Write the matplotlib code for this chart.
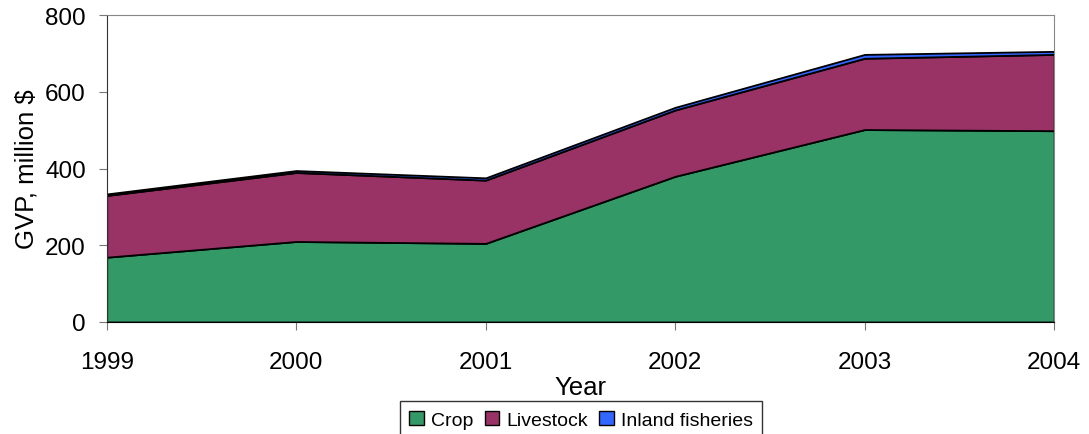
import matplotlib
matplotlib.use("Agg")
import matplotlib.pyplot as plt
import numpy as np

plt.rcParams['font.family'] = ['Liberation Sans', 'DejaVu Sans']

# gross value of production, million $
years = [1999, 2000, 2001, 2002, 2003, 2004]
crop = [169, 210, 205, 380, 502, 499]
livestock = [161, 180, 165, 173, 186, 199]
fisheries = [4, 5, 6, 7, 10, 8]

labels = ['Crop', 'Livestock', 'Inland fisheries']
colors = ['#339966', '#993366', '#3366FF']

fig = plt.figure(figsize=(10.89, 4.35), dpi=100)
ax = fig.add_axes([0.098, 0.2575, 0.870, 0.705])

polys = ax.stackplot(years, crop, livestock, fisheries, colors=colors,
                     labels=labels, edgecolor='black', linewidth=1.3)

ax.set_xlim(years[0], years[-1])
ax.set_ylim(0, 800)
ax.set_xticks(years)
ax.set_yticks(range(0, 801, 200))

for side in ['top', 'right']:
    ax.spines[side].set_color('#888888')
ax.spines['left'].set_color('#333333')
ax.spines['bottom'].set_color('black')
ax.tick_params(axis='both', direction='out', length=6, color='#777777',
               labelsize=17.5)
ax.tick_params(axis='x', pad=15)
ax.tick_params(axis='y', pad=9)

ax.set_xlabel('Year', fontsize=18.5, labelpad=1)
ax.set_ylabel('GVP, million $', fontsize=18.5, labelpad=5)

leg = fig.legend(handles=polys, labels=labels, loc='upper center',
                 bbox_to_anchor=(581 / 1089, 1 - 402 / 435), ncol=3,
                 fontsize=14, frameon=True, fancybox=False,
                 handlelength=0.75, handleheight=0.75, handletextpad=0.35,
                 columnspacing=0.6, borderpad=0.5, borderaxespad=0)
leg.get_frame().set_edgecolor('black')
leg.get_frame().set_linewidth(1.0)
for h in leg.legend_handles:
    h.set_linewidth(1.0)

fig.savefig('out.png', dpi=100)
